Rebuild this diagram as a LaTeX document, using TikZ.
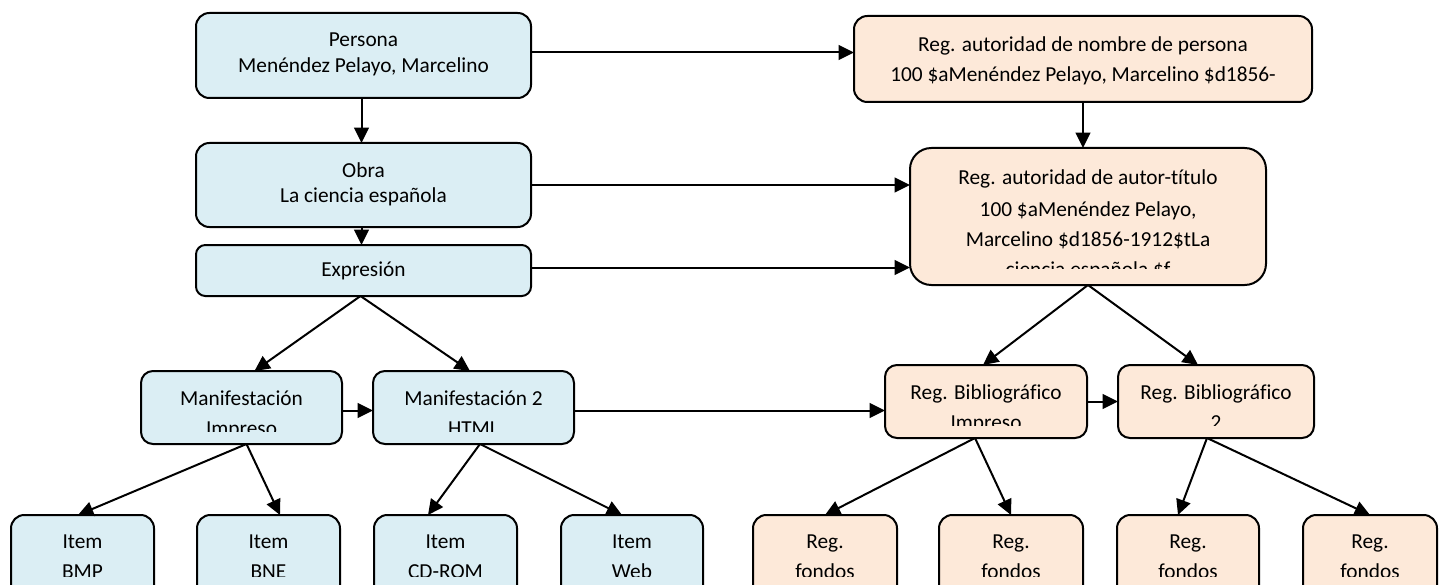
\documentclass[tikz,border=0pt]{standalone}
\usepackage{fontspec}
\setmainfont{Carlito}[Ligatures=NoCommon]
\usetikzlibrary{arrows.meta,calc}
\definecolor{bluefill}{HTML}{DBEEF4}
\definecolor{peachfill}{HTML}{FDE9D9}
\tikzset{
  boxsty/.style={draw=black, line width=1.5pt, inner sep=0pt, outer sep=0pt},
  txt/.style={font=\fontsize{16pt}{19pt}\selectfont, inner sep=0pt, anchor=base},
  arr/.style={line width=1.5pt, -{Triangle[length=11.5pt,width=11pt]}},
}
% #1 name, #2 fill, #3 xl, #4 yt, #5 xr, #6 yb, #7 radius
\newcommand\mkbox[7]{%
  \node[boxsty, fill=#2, rounded corners=#7, minimum width={(#5-#3)*0.75pt}, minimum height={(#6-#4)*0.75pt}] (#1) at ({(#3+#5)/2},{(#4+#6)/2}) {};}
\newcommand\tline[4]{\node[txt] (#1) at (#2,#3) {#4};}
\begin{document}
\begin{tikzpicture}[x=0.75pt,y=-0.75pt]
\useasboundingbox (0,0) rectangle (1440,585);
\clip (0,0) rectangle (1440,585);

% ---------- boxes ----------
\mkbox{persona}{bluefill}{196}{13}{531}{98}{10pt}
\mkbox{obra}{bluefill}{196}{143}{531}{227}{10pt}
\mkbox{expr}{bluefill}{196}{245}{531}{296}{7pt}
\mkbox{nombre}{peachfill}{854}{16}{1312}{102}{10pt}
\mkbox{autor}{peachfill}{910}{148}{1266}{285}{16pt}
\mkbox{man1}{bluefill}{141}{371}{342}{444}{9pt}
\mkbox{man2}{bluefill}{373}{371}{574}{444}{9pt}
\mkbox{bib1}{peachfill}{885}{365}{1087}{438}{9pt}
\mkbox{bib2}{peachfill}{1118}{365}{1314}{438}{9pt}
\mkbox{bmp}{bluefill}{11}{515}{154}{620}{10pt}
\mkbox{bne}{bluefill}{197}{515}{340}{620}{10pt}
\mkbox{cdrom}{bluefill}{374}{515}{517}{620}{10pt}
\mkbox{web}{bluefill}{561}{515}{703}{620}{10pt}
\mkbox{f1}{peachfill}{753}{515}{897}{620}{10pt}
\mkbox{f2}{peachfill}{939}{515}{1083}{620}{10pt}
\mkbox{f3}{peachfill}{1117}{515}{1259}{620}{10pt}
\mkbox{f4}{peachfill}{1303}{515}{1437}{620}{10pt}

% ---------- texts ----------
\tline{tp1}{363.5}{47}{Persona}
\tline{tp2}{363.5}{73}{Menéndez Pelayo, Marcelino}
\tline{to1}{363.5}{177}{Obra}
\tline{to2}{363.5}{202}{La ciencia española}
\tline{te1}{363.5}{276}{Expresión}
\tline{tn1}{1083}{52}{Reg. autoridad de nombre de persona}
\tline{tn2}{1083}{82}{100 \$aMenéndez Pelayo, Marcelino \$d1856-}
\begin{scope}
\clip (910,148) rectangle (1266,268);
\tline{ta1}{1088}{185}{Reg. autoridad de autor-título}
\tline{ta2}{1088}{216}{100 \$aMenéndez Pelayo,}
\tline{ta3}{1088}{246}{Marcelino \$d1856-1912\$tLa}
\tline{ta4}{1088}{276}{ciencia española \$f}
\end{scope}
\begin{scope}
\clip (141,371) rectangle (574,431);
\tline{tm1a}{241.5}{405}{Manifestación}
\tline{tm1b}{241.5}{435}{Impreso}
\tline{tm2a}{473.5}{405}{Manifestación 2}
\tline{tm2b}{473.5}{435}{HTML}
\end{scope}
\begin{scope}
\clip (885,365) rectangle (1314,425);
\tline{tb1a}{986}{399}{Reg. Bibliográfico}
\tline{tb1b}{986}{429}{Impreso}
\tline{tb2a}{1216}{399}{Reg. Bibliográfico}
\tline{tb2b}{1216}{429}{2}
\end{scope}
\begin{scope}
\clip (0,515) rectangle (1440,576);
\tline{ti1a}{82.5}{548}{Item}
\tline{ti1b}{82.5}{578}{BMP}
\tline{ti2a}{268.5}{548}{Item}
\tline{ti2b}{268.5}{578}{BNE}
\tline{ti3a}{445.5}{548}{Item}
\tline{ti3b}{445.5}{578}{CD-ROM}
\tline{ti4a}{632}{548}{Item}
\tline{ti4b}{632}{578}{Web}
\tline{tf1a}{825}{548}{Reg.}
\tline{tf1b}{825}{578}{fondos}
\tline{tf2a}{1011}{548}{Reg.}
\tline{tf2b}{1011}{578}{fondos}
\tline{tf3a}{1188}{548}{Reg.}
\tline{tf3b}{1188}{578}{fondos}
\tline{tf4a}{1370}{548}{Reg.}
\tline{tf4b}{1370}{578}{fondos}
\end{scope}

% ---------- connectors ----------
\draw[arr] ($(persona.east)+(0,-3)$) -- ($(persona.east -| nombre.west)+(0,-3)$);
\draw[arr] (obra.east) -- (obra.east -| autor.west);
\draw[arr] ($(expr.east)+(0,-3)$) -- ($(expr.east -| autor.west)+(0,-3)$);
\draw[arr] ($(persona.south)+(-2,0)$) -- ($(obra.north)+(-2,0)$);
\draw[arr] ($(obra.south)+(-2,0)$) -- ($(expr.north)+(-2,0)$);
\draw[arr] (nombre.south) -- (nombre.south |- autor.north);
\draw[arr] ($(expr.south)+(-3,0)$) -- ($(man1.north)+(13,0)$);
\draw[arr] ($(expr.south)+(-3,0)$) -- ($(man2.north)+(-3.5,0)$);
\draw[arr] ($(man1.east)+(0,3)$) -- ($(man2.west)+(0,3)$);
\draw[arr] ($(man2.east)+(0,3)$) -- ($(man2.east -| bib1.west)+(0,3)$);
\draw[arr] (bib1.east) -- (bib2.west);
\draw[arr] (autor.south) -- ($(bib1.north)+(-3,0)$);
\draw[arr] (autor.south) -- ($(bib2.north)+(-18,0)$);
\draw[arr] ($(man1.south)+(5,0)$) -- ($(bmp.north)+(-4.5,0)$);
\draw[arr] ($(man1.south)+(5,0)$) -- ($(bne.north)+(11.5,0)$);
\draw[arr] ($(man2.south)+(6.5,0)$) -- ($(cdrom.north)+(-17.5,0)$);
\draw[arr] ($(man2.south)+(6.5,0)$) -- ($(web.north)+(-10,0)$);
\draw[arr] ($(bib1.south)+(-11,0)$) -- (f1.north);
\draw[arr] ($(bib1.south)+(-11,0)$) -- (f2.north);
\draw[arr] ($(bib2.south)+(-9,0)$) -- ($(f3.north)+(-10,0)$);
\draw[arr] ($(bib2.south)+(-9,0)$) -- (f4.north);
\end{tikzpicture}
\end{document}
